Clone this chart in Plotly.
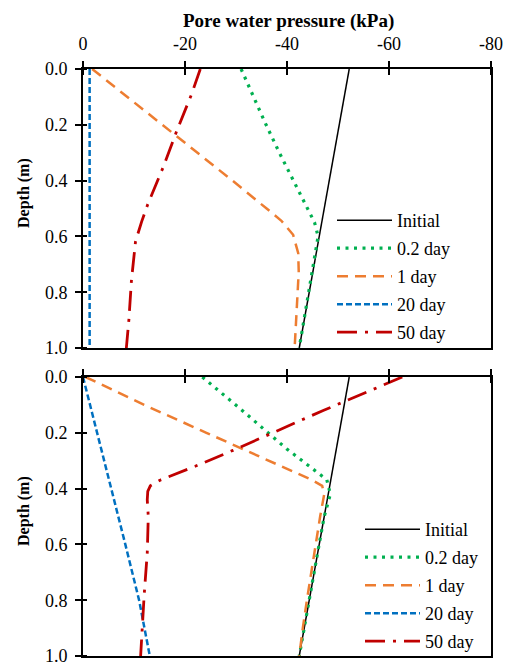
import plotly.graph_objects as go

# ---------------- data ----------------
x_tickvals = [0, -20, -40, -60, -80]
x_ticktext = ["0", "-20", "-40", "-60", "-80"]
y_tickvals = [0.0, 0.2, 0.4, 0.6, 0.8, 1.0]
y_ticktext = ["0.0", "0.2", "0.4", "0.6", "0.8", "1.0"]

series_names = ["Initial", "0.2 day", "1 day", "20 day", "50 day"]

# Initial profile (same in both panels)
init_depth = [0.0, 1.0]
init_pwp = [-52.2, -42.4]

# ---- upper panel ----
top_d02_depth = [0.0, 0.1, 0.2, 0.3, 0.4, 0.5, 0.55, 0.6, 0.7, 0.8, 0.9, 1.0]
top_d02_pwp = [-31.0, -33.4, -35.9, -38.5, -41.2, -43.9, -45.4, -46.1, -45.2, -44.3, -43.3, -42.4]

top_d1_depth = [0.0, 0.1, 0.2, 0.3, 0.4, 0.5, 0.544, 0.594, 0.66, 0.726, 0.821, 0.928, 1.0]
top_d1_pwp = [-1.8, -8.7, -15.5, -22.4, -29.3, -36.0, -38.9, -41.2, -42.2, -42.3, -42.0, -41.6, -41.5]

top_d20_depth = [0.0, 1.0]
top_d20_pwp = [-1.3, -1.3]

top_d50_depth = [0.0, 0.09, 0.221, 0.353, 0.485, 0.547, 0.618, 0.758, 0.898, 1.0]
top_d50_pwp = [-23.0, -21.3, -18.4, -15.7, -12.7, -11.5, -10.3, -9.5, -9.0, -8.5]

# ---- lower panel ----
bot_d02_depth = [0.0, 0.118, 0.257, 0.368, 0.42, 0.5, 0.6, 0.7, 0.8, 0.9, 1.0]
bot_d02_pwp = [-23.4, -31.1, -39.9, -47.8, -48.5, -47.3, -46.3, -45.3, -44.4, -43.4, -42.4]

bot_d1_depth = [0.0, 0.1, 0.2, 0.3, 0.37, 0.39, 0.42, 0.5, 0.6, 0.7, 0.8, 0.9, 1.0]
bot_d1_pwp = [-0.5, -12.0, -24.2, -36.5, -45.0, -46.9, -47.3, -46.5, -45.6, -44.8, -43.9, -43.1, -42.4]

bot_d20_depth = [0.0, 0.2, 0.427, 0.6, 0.8, 1.0]
bot_d20_pwp = [0.0, -2.8, -5.9, -8.3, -11.0, -13.1]

bot_d50_depth = [0.0, 0.12, 0.263, 0.32, 0.368, 0.39, 0.41, 0.44, 0.5, 0.63, 0.78, 0.91, 1.0]
bot_d50_pwp = [-62.6, -47.1, -29.4, -22.0, -15.3, -13.2, -12.7, -12.6, -12.8, -12.6, -12.0, -11.5, -11.3]

# ---------------- styles ----------------
styles = [
    dict(color="#000000", width=1.5, dash="solid"),
    dict(color="#00B050", width=3.2, dash="3px,5.5px"),
    dict(color="#ED7D31", width=2.5, dash="11px,7px"),
    dict(color="#0070C0", width=2.5, dash="6px,3px"),
    dict(color="#C00000", width=2.8, dash="20px,8px,3px,8px"),
]

FONT = "Liberation Serif"

top_series = [
    (init_depth, init_pwp),
    (top_d02_depth, top_d02_pwp),
    (top_d1_depth, top_d1_pwp),
    (top_d20_depth, top_d20_pwp),
    (top_d50_depth, top_d50_pwp),
]
bot_series = [
    (init_depth, init_pwp),
    (bot_d02_depth, bot_d02_pwp),
    (bot_d1_depth, bot_d1_pwp),
    (bot_d20_depth, bot_d20_pwp),
    (bot_d50_depth, bot_d50_pwp),
]

fig = go.Figure()
for i, ((d, p), name, st) in enumerate(zip(top_series, series_names, styles)):
    fig.add_trace(go.Scatter(x=p, y=d, mode="lines", name=name, line=st,
                             xaxis="x", yaxis="y", legend="legend",
                             legendgroup="top%d" % i))
for i, ((d, p), name, st) in enumerate(zip(bot_series, series_names, styles)):
    fig.add_trace(go.Scatter(x=p, y=d, mode="lines", name=name, line=st,
                             xaxis="x2", yaxis="y2", legend="legend2",
                             legendgroup="bot%d" % i))

W, H = 506, 662
ml, mr, mt, mb = 83, 15, 69, 6
plot_h = H - mt - mb
top_dom = [(H - mb - 348) / plot_h, 1.0]
bot_dom = [0.0, (H - mb - 377) / plot_h]

def xax(show_labels, anchor):
    return dict(
        anchor=anchor, side="top", range=[0, -80], domain=[0, 1],
        tickmode="array", tickvals=x_tickvals, ticktext=x_ticktext,
        showticklabels=show_labels,
        ticks="outside", ticklen=6, tickwidth=1.5, tickcolor="black",
        minor=dict(ticks="inside", ticklen=6, tickwidth=1.5, tickcolor="black",
                   tickmode="array", tickvals=x_tickvals, showgrid=False),
        ticklabelstandoff=4, ticklabeloverflow="allow",
        showline=True, linewidth=2, linecolor="black", mirror=True,
        showgrid=False, zeroline=False,
        tickfont=dict(family=FONT, size=18, color="black"),
    )

def yax(dom, anchor):
    return dict(
        anchor=anchor, domain=dom, range=[1.0, 0.0],
        tickmode="array", tickvals=y_tickvals, ticktext=y_ticktext,
        ticks="outside", ticklen=6, tickwidth=1.5, tickcolor="black",
        minor=dict(ticks="inside", ticklen=4, tickwidth=1.5, tickcolor="black",
                   tickmode="array", tickvals=y_tickvals, showgrid=False),
        ticklabelstandoff=4, ticklabeloverflow="allow",
        showline=True, linewidth=2, linecolor="black", mirror=True,
        showgrid=False, zeroline=False,
        tickfont=dict(family=FONT, size=18, color="black"),
    )

def px_x(px):
    return (px - ml) / (W - ml - mr)

def px_y(py):
    return (H - mb - py) / plot_h

legend_common = dict(xanchor="left", yanchor="top", bgcolor="rgba(0,0,0,0)",
                     borderwidth=0, tracegroupgap=1.6, itemwidth=55,
                     font=dict(family=FONT, size=18, color="black"))

fig.update_layout(
    width=W, height=H,
    margin=dict(l=ml, r=mr, t=mt, b=mb, autoexpand=False),
    paper_bgcolor="white", plot_bgcolor="white",
    font=dict(family=FONT, color="black"),
    xaxis=xax(True, "y"),
    yaxis=yax(top_dom, "x"),
    xaxis2=xax(False, "y2"),
    yaxis2=yax(bot_dom, "x2"),
    legend=dict(x=px_x(332), y=px_y(202), **legend_common),
    legend2=dict(x=px_x(360), y=px_y(511), **legend_common),
    showlegend=True,
    annotations=[
        dict(text="<b>Pore water pressure (kPa)</b>", xref="paper", yref="paper",
             x=px_x(288), y=px_y(21), xanchor="center", yanchor="middle",
             showarrow=False, font=dict(family=FONT, size=19, color="black")),
        dict(text="<b>Depth (m)</b>", xref="paper", yref="paper",
             x=px_x(24), y=px_y(193), xanchor="center", yanchor="middle",
             textangle=-90, showarrow=False,
             font=dict(family=FONT, size=16, color="black")),
        dict(text="<b>Depth (m)</b>", xref="paper", yref="paper",
             x=px_x(24), y=px_y(511), xanchor="center", yanchor="middle",
             textangle=-90, showarrow=False,
             font=dict(family=FONT, size=16, color="black")),
    ],
)

fig.write_html("out.html")
